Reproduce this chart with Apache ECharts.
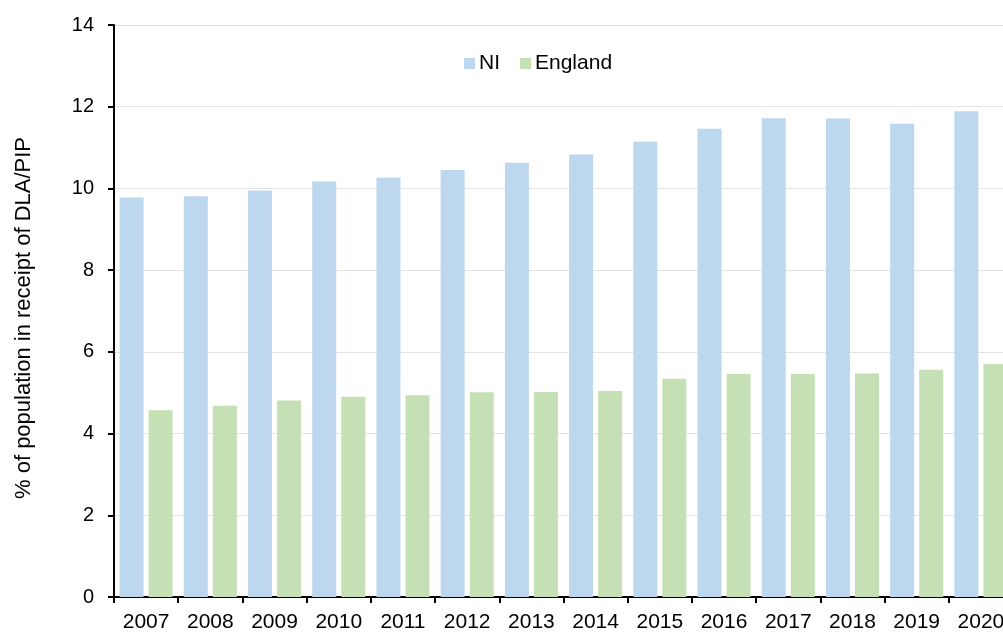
<!DOCTYPE html>
<html>
<head>
<meta charset="utf-8">
<script src="https://cdn.jsdelivr.net/npm/echarts@6/dist/echarts.min.js"></script>
<style>
html,body{margin:0;padding:0;background:#fff;}
#c{width:1003px;height:633px;}
</style>
</head>
<body>
<div id="c"></div>
<script>
const years = ['2007','2008','2009','2010','2011','2012','2013','2014','2015','2016','2017','2018','2019','2020'];
const niValues = [9.78, 9.81, 9.95, 10.17, 10.26, 10.45, 10.63, 10.83, 11.14, 11.46, 11.72, 11.71, 11.58, 11.89];
const englandValues = [4.57, 4.68, 4.81, 4.90, 4.94, 5.01, 5.02, 5.04, 5.34, 5.46, 5.46, 5.47, 5.56, 5.70];
const yTicks = [0, 2, 4, 6, 8, 10, 12, 14];
const seriesNames = ['NI', 'England'];
const yAxisTitle = '% of population in receipt of DLA/PIP';

const font = '"Liberation Sans", Arial, sans-serif';
const chart = echarts.init(document.getElementById('c'));
chart.setOption({
  animation: false,
  backgroundColor: '#ffffff',
  textStyle: { fontFamily: font, color: '#000' },
  grid: { left: 114, width: 899, top: 25, bottom: 36, containLabel: false, outerBoundsMode: 'none' },
  legend: {
    data: seriesNames,
    left: 459, top: 48,
    icon: 'rect', itemWidth: 11, itemHeight: 11, itemGap: 20,
    textStyle: { fontFamily: font, fontSize: 21, color: '#000', padding: [0,0,0,-1] }
  },
  xAxis: {
    type: 'category',
    data: years,
    axisLine: { lineStyle: { color: '#000', width: 2 } },
    axisTick: { show: true, length: 6, lineStyle: { color: '#000', width: 2 } },
    axisLabel: { fontFamily: font, fontSize: 21, color: '#000', margin: 15, interval: 0 }
  },
  yAxis: {
    type: 'value',
    min: yTicks[0], max: yTicks[yTicks.length - 1], interval: 2,
    name: yAxisTitle,
    nameLocation: 'middle',
    nameGap: 79,
    nameTextStyle: { fontFamily: font, fontSize: 22, color: '#000', padding: [0, 14, 0, 0] },
    axisLine: { show: true, lineStyle: { color: '#000', width: 2 } },
    axisTick: { show: true, length: 6, lineStyle: { color: '#000', width: 2 } },
    axisLabel: { fontFamily: font, fontSize: 20, color: '#000', margin: 20 },
    splitLine: { show: true, lineStyle: { color: '#e3e3e3', width: 1 } }
  },
  series: [
    { name: seriesNames[0], type: 'bar', data: niValues, barWidth: 24, barGap: '21%', itemStyle: { color: '#BDD7EE' } },
    { name: seriesNames[1], type: 'bar', data: englandValues, barWidth: 24, barGap: '21%', itemStyle: { color: '#C5E0B4' } }
  ]
});
</script>
</body>
</html>
